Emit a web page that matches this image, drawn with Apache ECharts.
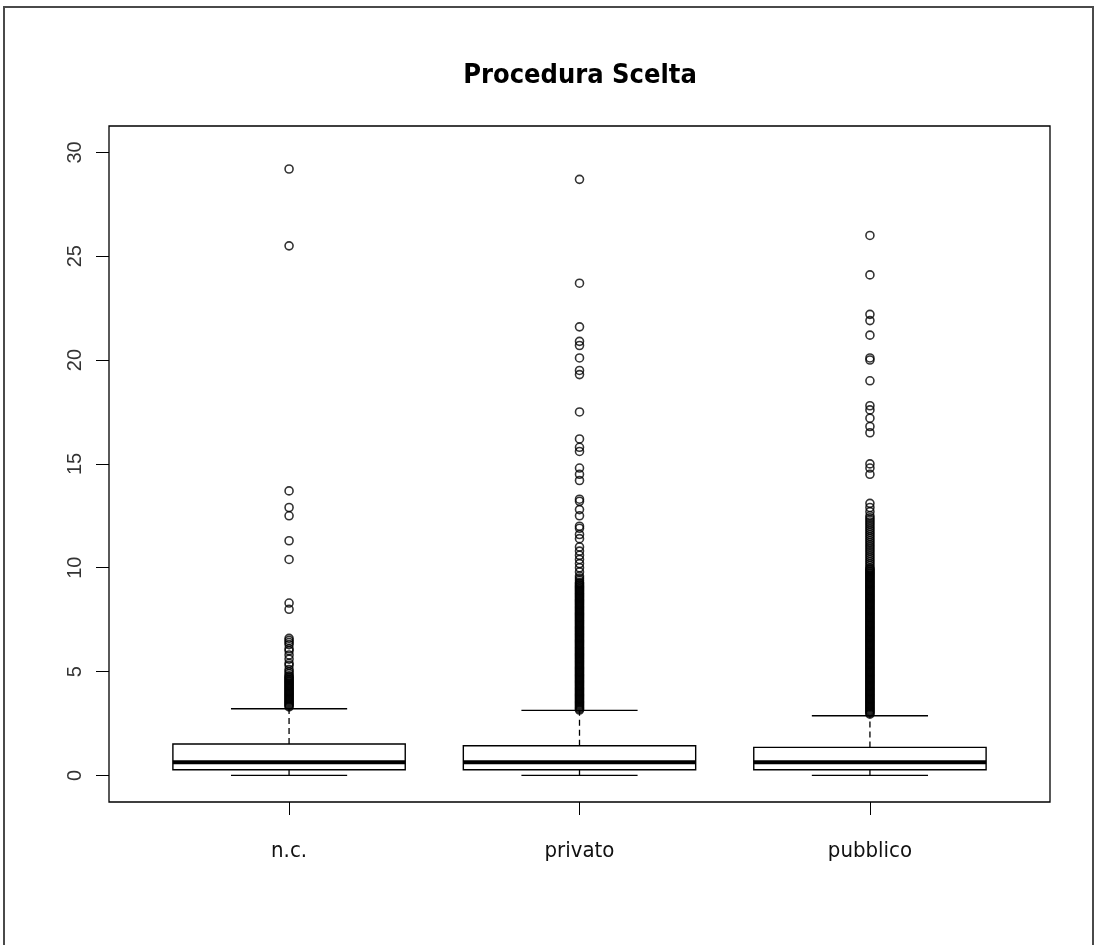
<!DOCTYPE html>
<html>
<head>
<meta charset="utf-8">
<script src="https://cdn.jsdelivr.net/npm/echarts@6/dist/echarts.min.js"></script>
<style>
  html, body { margin: 0; padding: 0; background: #fff; }
  #chart { width: 1095px; height: 945px; }
</style>
</head>
<body>
<div id="chart"></div>
<script>
// ---------------- DATA ----------------
const titleText = 'Procedura Scelta';
const categories = ['n.c.', 'privato', 'pubblico'];
const yTicks = [0, 5, 10, 15, 20, 25, 30];

// box statistics: [lower whisker, Q1, median, Q3, upper whisker]
const statsNC = [0, 0.27, 0.64, 1.51, 3.21];
const statsPrivato = [0, 0.27, 0.64, 1.43, 3.13];
const statsPubblico = [0, 0.27, 0.64, 1.35, 2.87];

// outliers
const outNC = [29.2, 25.5, 13.7, 12.9, 12.5, 11.3, 10.4, 8.3, 8.0,
  6.6, 6.5, 6.4, 6.3, 6.1, 6.0, 5.8, 5.6, 5.4, 5.3, 5.1, 5.0, 4.9, 4.8,
  4.75, 4.7, 4.65, 4.6, 4.55, 4.5, 4.45, 4.4, 4.35, 4.3, 4.25, 4.2, 4.15, 4.1,
  4.05, 4.0, 3.95, 3.9, 3.85, 3.8, 3.75, 3.7, 3.65, 3.6, 3.55, 3.5, 3.45, 3.4,
  3.35, 3.3];

const outPrivato = [28.7, 23.7, 21.6, 20.9, 20.7, 20.1, 19.5, 19.3, 17.5,
  16.2, 15.8, 15.6, 14.8, 14.5, 14.2, 13.3, 13.2, 12.8, 12.5, 12.0, 11.9,
  11.6, 11.4, 11.0, 10.8, 10.6, 10.4, 10.2, 10.0, 9.8, 9.6, 9.5, 9.4,
  9.3, 9.25, 9.2, 9.15, 9.1, 9.05, 9.0, 8.95, 8.9, 8.85, 8.8, 8.75, 8.7, 8.65,
  8.6, 8.55, 8.5, 8.45, 8.4, 8.35, 8.3, 8.25, 8.2, 8.15, 8.1, 8.05, 8.0, 7.95,
  7.9, 7.85, 7.8, 7.75, 7.7, 7.65, 7.6, 7.55, 7.5, 7.45, 7.4, 7.35, 7.3, 7.25,
  7.2, 7.15, 7.1, 7.05, 7.0, 6.95, 6.9, 6.85, 6.8, 6.75, 6.7, 6.65, 6.6, 6.55,
  6.5, 6.45, 6.4, 6.35, 6.3, 6.25, 6.2, 6.15, 6.1, 6.05, 6.0, 5.95, 5.9, 5.85,
  5.8, 5.75, 5.7, 5.65, 5.6, 5.55, 5.5, 5.45, 5.4, 5.35, 5.3, 5.25, 5.2, 5.15,
  5.1, 5.05, 5.0, 4.95, 4.9, 4.85, 4.8, 4.75, 4.7, 4.65, 4.6, 4.55, 4.5, 4.45,
  4.4, 4.35, 4.3, 4.25, 4.2, 4.15, 4.1, 4.05, 4.0, 3.95, 3.9, 3.85, 3.8, 3.75,
  3.7, 3.65, 3.6, 3.55, 3.5, 3.45, 3.4, 3.35, 3.3, 3.25, 3.2, 3.15];

const outPubblico = [26.0, 24.1, 22.2, 21.9, 21.2, 20.1, 20.0, 19.0, 17.8,
  17.6, 17.2, 16.8, 16.5, 15.0, 14.8, 14.5, 13.1, 12.9, 12.7,
  12.5, 12.4, 12.3, 12.2, 12.1, 12.0, 11.9, 11.8, 11.7, 11.6, 11.5, 11.4,
  11.3, 11.2, 11.1, 11.0, 10.9, 10.8, 10.7, 10.6, 10.5, 10.4, 10.3, 10.2, 10.1,
  10.0, 9.95, 9.9, 9.85, 9.8, 9.75, 9.7, 9.65, 9.6, 9.55, 9.5, 9.45, 9.4, 9.35,
  9.3, 9.25, 9.2, 9.15, 9.1, 9.05, 9.0, 8.95, 8.9, 8.85, 8.8, 8.75, 8.7, 8.65,
  8.6, 8.55, 8.5, 8.45, 8.4, 8.35, 8.3, 8.25, 8.2, 8.15, 8.1, 8.05, 8.0, 7.95,
  7.9, 7.85, 7.8, 7.75, 7.7, 7.65, 7.6, 7.55, 7.5, 7.45, 7.4, 7.35, 7.3, 7.25,
  7.2, 7.15, 7.1, 7.05, 7.0, 6.95, 6.9, 6.85, 6.8, 6.75, 6.7, 6.65, 6.6, 6.55,
  6.5, 6.45, 6.4, 6.35, 6.3, 6.25, 6.2, 6.15, 6.1, 6.05, 6.0, 5.95, 5.9, 5.85,
  5.8, 5.75, 5.7, 5.65, 5.6, 5.55, 5.5, 5.45, 5.4, 5.35, 5.3, 5.25, 5.2, 5.15,
  5.1, 5.05, 5.0, 4.95, 4.9, 4.85, 4.8, 4.75, 4.7, 4.65, 4.6, 4.55, 4.5, 4.45,
  4.4, 4.35, 4.3, 4.25, 4.2, 4.15, 4.1, 4.05, 4.0, 3.95, 3.9, 3.85, 3.8, 3.75,
  3.7, 3.65, 3.6, 3.55, 3.5, 3.45, 3.4, 3.35, 3.3, 3.25, 3.2, 3.15, 3.1, 3.05,
  3.0, 2.95];

// ---------------- BUILD ----------------
const allStats = [statsNC, statsPrivato, statsPubblico];
const allOut = [outNC, outPrivato, outPubblico];

const boxData = allStats.map((s, i) => [i + 1].concat(s));
const outlierData = [];
allOut.forEach((arr, i) => arr.forEach(v => outlierData.push([i + 1, v])));

const narrowFont = "'Liberation Sans Narrow', 'DejaVu Sans Condensed', 'Arial Narrow', 'Liberation Sans', sans-serif";

const chart = echarts.init(document.getElementById('chart'), null, { renderer: 'canvas' });

function renderBox(params, api) {
  const x = api.value(0);
  const lo = api.value(1), q1 = api.value(2), med = api.value(3), q3 = api.value(4), hi = api.value(5);
  const hb = 0.4, hs = 0.2;
  const tl = api.coord([x - hb, q3]);
  const br = api.coord([x + hb, q1]);
  const mL = api.coord([x - hb, med]);
  const mR = api.coord([x + hb, med]);
  const cHi = api.coord([x, hi]);
  const cQ3 = api.coord([x, q3]);
  const cQ1 = api.coord([x, q1]);
  const cLo = api.coord([x, lo]);
  const sHiL = api.coord([x - hs, hi]);
  const sHiR = api.coord([x + hs, hi]);
  const sLoL = api.coord([x - hs, lo]);
  const sLoR = api.coord([x + hs, lo]);
  const lineStyle = { stroke: '#000', lineWidth: 1.4, fill: null };
  return {
    type: 'group',
    children: [
      { type: 'line', shape: { x1: cQ3[0], y1: cQ3[1], x2: cHi[0], y2: cHi[1] },
        style: { stroke: '#000', lineWidth: 1.3, lineDash: [6, 4] } },
      { type: 'line', shape: { x1: cQ1[0], y1: cQ1[1], x2: cLo[0], y2: cLo[1] },
        style: { stroke: '#000', lineWidth: 1.3, lineDash: [6, 4] } },
      { type: 'line', shape: { x1: sHiL[0], y1: sHiL[1], x2: sHiR[0], y2: sHiR[1] }, style: lineStyle },
      { type: 'line', shape: { x1: sLoL[0], y1: sLoL[1], x2: sLoR[0], y2: sLoR[1] }, style: lineStyle },
      { type: 'rect', shape: { x: tl[0], y: tl[1], width: br[0] - tl[0], height: br[1] - tl[1] },
        style: { stroke: '#000', lineWidth: 1.4, fill: '#fff' } },
      { type: 'line', shape: { x1: mL[0], y1: mL[1], x2: mR[0], y2: mR[1] },
        style: { stroke: '#000', lineWidth: 4 } }
    ]
  };
}

const option = {
  animation: false,
  backgroundColor: '#fff',
  graphic: [
    { type: 'rect', shape: { x: 4, y: 7, width: 1089, height: 950 },
      style: { fill: null, stroke: '#4a4a4a', lineWidth: 2 }, silent: true },
    { type: 'text', x: 580, y: 76,
      style: { text: titleText, textAlign: 'center', textVerticalAlign: 'middle',
        font: "bold 27px " + narrowFont, fill: '#000' } }
  ],
  grid: {
    left: 109, right: 45, top: 126, bottom: 143,
    show: true, borderColor: '#000', borderWidth: 1.3, backgroundColor: 'transparent'
  },
  xAxis: {
    type: 'value', min: 0.38, max: 3.62,
    axisLine: { show: false, onZero: false },
    splitLine: { show: false },
    axisTick: { show: true, length: 13, customValues: [1, 2, 3], lineStyle: { color: '#000', width: 1 } },
    axisLabel: {
      customValues: [1, 2, 3],
      formatter: v => categories[Math.round(v) - 1] || '',
      margin: 38, fontFamily: narrowFont, fontSize: 22, color: '#111'
    }
  },
  yAxis: {
    type: 'value', min: -1.28, max: 31.27,
    axisLine: { show: false, onZero: false },
    splitLine: { show: false },
    axisTick: { show: true, length: 13, customValues: yTicks, lineStyle: { color: '#000', width: 1 } },
    axisLabel: {
      customValues: yTicks, rotate: 90, margin: 24,
      fontFamily: "'Liberation Sans', Arial, sans-serif", fontSize: 20, color: '#333'
    }
  },
  series: [
    {
      type: 'custom',
      renderItem: renderBox,
      encode: { x: 0, y: [1, 2, 3, 4, 5] },
      data: boxData,
      z: 2
    },
    {
      type: 'scatter',
      data: outlierData,
      symbol: 'circle',
      symbolSize: 8,
      itemStyle: { color: 'rgba(0,0,0,0)', borderColor: '#000', borderWidth: 1.6 },
      z: 3
    }
  ]
};
chart.setOption(option);
</script>
</body>
</html>
